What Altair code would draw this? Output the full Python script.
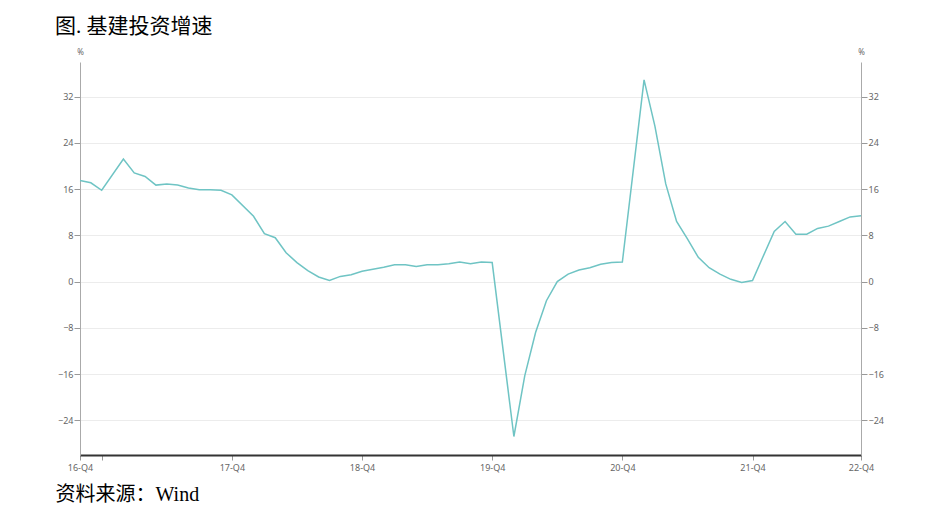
import altair as alt
import pandas as pd

# Monthly cumulative YoY growth of infrastructure investment (Jan-Feb reported together)
months = [
    "2016-10", "2016-11", "2016-12",
    "2017-02", "2017-03", "2017-04", "2017-05", "2017-06", "2017-07", "2017-08", "2017-09", "2017-10", "2017-11", "2017-12",
    "2018-02", "2018-03", "2018-04", "2018-05", "2018-06", "2018-07", "2018-08", "2018-09", "2018-10", "2018-11", "2018-12",
    "2019-02", "2019-03", "2019-04", "2019-05", "2019-06", "2019-07", "2019-08", "2019-09", "2019-10", "2019-11", "2019-12",
    "2020-02", "2020-03", "2020-04", "2020-05", "2020-06", "2020-07", "2020-08", "2020-09", "2020-10", "2020-11", "2020-12",
    "2021-02", "2021-03", "2021-04", "2021-05", "2021-06", "2021-07", "2021-08", "2021-09", "2021-10", "2021-11", "2021-12",
    "2022-02", "2022-03", "2022-04", "2022-05", "2022-06", "2022-07", "2022-08", "2022-09", "2022-10",
]
growth = [
    17.5, 17.1, 15.8,
    21.2, 18.8, 18.2, 16.7, 16.9, 16.7, 16.2, 15.9, 15.9, 15.8, 15.0,
    11.3, 8.3, 7.6, 5.0, 3.3, 1.9, 0.8, 0.2, 0.9, 1.2, 1.8,
    2.5, 2.9, 2.9, 2.6, 2.9, 2.9, 3.1, 3.4, 3.1, 3.4, 3.3,
    -26.8, -16.3, -8.8, -3.3, 0.0, 1.3, 2.0, 2.4, 3.0, 3.3, 3.4,
    34.9, 26.9, 16.9, 10.4, 7.4, 4.2, 2.4, 1.3, 0.4, -0.15, 0.2,
    8.7, 10.4, 8.2, 8.2, 9.2, 9.6, 10.4, 11.2, 11.4,
]

x_tick_idx = [0, 2, 14, 26, 38, 50, 62, 72]
y_ticks = [-24, -16, -8, 0, 8, 16, 24, 32]
y_domain = [-30, 38]

df = pd.DataFrame({"month": months, "growth": growth})
ym = df["month"].str.split("-", expand=True).astype(int)
df["idx"] = (ym[0] - 2016) * 12 + ym[1] - 10

label_font = "Noto Sans"
serif_font = "Liberation Serif, Noto Sans CJK SC"

x_enc = alt.X(
    "idx:Q",
    scale=alt.Scale(domain=[0, 72], nice=False, zero=False),
    axis=alt.Axis(
        values=x_tick_idx,
        labelExpr="datum.value == 2 ? '' : (16 + floor((datum.value + 9) / 12)) + '-Q4'",
        labelFlush=False,
        labelFont=label_font,
        labelFontSize=9,
        labelColor="#666",
        labelPadding=3,
        tickSize=5,
        tickColor="#999",
        domainColor="#333",
        domainWidth=2,
        grid=False,
        title="资料来源：Wind",
        titleX=-25,
        titleY=39,
        titleAlign="left",
        titleBaseline="middle",
        titleFont=serif_font,
        titleFontSize=20,
        titleFontWeight="normal",
        titleColor="#000",
    ),
)


def y_axis(orient, grid):
    return alt.Axis(
        orient=orient,
        values=y_ticks,
        grid=grid,
        gridColor="#ececec",
        gridWidth=1,
        labelFont=label_font,
        labelFontSize=9,
        labelColor="#666",
        labelPadding=1,
        tickSize=6,
        tickColor="#999",
        domainColor="#aaa",
        title="%",
        titleAngle=0,
        titleX=0,
        titleY=-10,
        titleAlign="center",
        titleBaseline="middle",
        titleFont=label_font,
        titleFontSize=8,
        titleFontWeight="normal",
        titleColor="#666",
    )


line = alt.Chart(df).mark_line(color="#6fc4c4", strokeWidth=1.5).encode(
    x=x_enc,
    y=alt.Y("growth:Q", scale=alt.Scale(domain=y_domain, nice=False), axis=y_axis("left", True)),
)

right = alt.Chart(df).mark_line(opacity=0).encode(
    x=x_enc,
    y=alt.Y("growth:Q", scale=alt.Scale(domain=y_domain, nice=False), axis=y_axis("right", False)),
)

chart = (
    alt.layer(line, right)
    .resolve_scale(y="independent")
    .properties(
        width=781,
        height=393,
        autosize=alt.AutoSizeParams(type="none"),
        padding={"left": 72, "top": 54, "right": 70, "bottom": 56},
        background="white",
        title=alt.Title(
            "图. 基建投资增速",
            anchor="start",
            frame="group",
            dx=-25,
            offset=11,
            font=serif_font,
            fontSize=21,
            fontWeight="normal",
            color="#000",
        ),
    )
    .configure_view(stroke=None)
)

chart.save("out.html", embed_options={"renderer": "svg", "actions": False})
